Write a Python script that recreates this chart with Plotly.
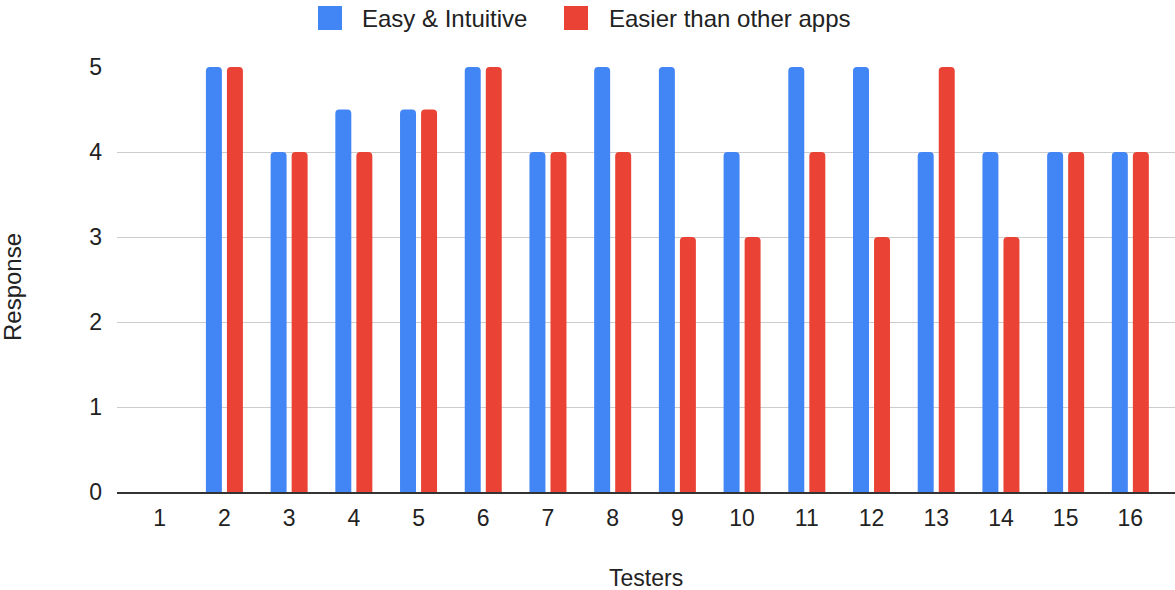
import plotly.graph_objects as go

# Survey responses per tester
testers = [str(i) for i in range(1, 17)]
easy_intuitive = [None, 5, 4, 4.5, 4.5, 5, 4, 5, 5, 4, 5, 5, 4, 4, 4, 4]
easier_than_others = [None, 5, 4, 4, 4.5, 5, 4, 4, 3, 3, 4, 3, 5, 3, 4, 4]
series_names = ["Easy & Intuitive", "Easier than other apps"]
series_colors = ["#4285F4", "#EA4335"]
y_ticks = [0, 1, 2, 3, 4, 5]

W, H = 1175, 590
L, R, T, B = 117, 0, 67, 98
FONT = "Liberation Sans, Arial, sans-serif"
TEXT = "#222222"


def px_x(px):
    return (px - L) / (W - L - R)


def px_y(py):
    return (H - B - py) / (H - T - B)


fig = go.Figure()
for name, vals, color in zip(series_names, [easy_intuitive, easier_than_others], series_colors):
    fig.add_trace(go.Bar(x=testers, y=vals, name=name, marker_color=color,
                         marker_line_width=0, showlegend=False))

# Legend drawn as swatches + labels above the plot
shapes = []
annotations = []
legend_items = [(318, 360), (564, 607)]
for (sx, tx), name, color in zip(legend_items, series_names, series_colors):
    shapes.append(dict(type="rect", xref="paper", yref="paper",
                       x0=px_x(sx), x1=px_x(sx + 24), y0=px_y(30), y1=px_y(6),
                       fillcolor=color, line_width=0))
    annotations.append(dict(text=name, xref="paper", yref="paper",
                            x=px_x(tx), y=px_y(18), xanchor="left", yanchor="middle",
                            showarrow=False, font=dict(size=24, color=TEXT, family=FONT)))

# Axis titles
annotations.append(dict(text="Testers", xref="paper", yref="paper",
                        x=px_x(646), y=px_y(578), xanchor="center", yanchor="middle",
                        showarrow=False, font=dict(size=23, color=TEXT, family=FONT)))
annotations.append(dict(text="Response", xref="paper", yref="paper",
                        x=px_x(12), y=px_y(287), xanchor="center", yanchor="middle",
                        textangle=-90, showarrow=False,
                        font=dict(size=24, color=TEXT, family=FONT)))

fig.update_layout(
    width=W, height=H,
    margin=dict(l=L, r=R, t=T, b=B, pad=0),
    paper_bgcolor="white", plot_bgcolor="white",
    barmode="group", bargap=0.35, bargroupgap=0.24, barcornerradius=4,
    font=dict(family=FONT, size=23, color=TEXT),
    shapes=shapes, annotations=annotations,
    xaxis=dict(type="category", range=[-0.66, 15.69], showgrid=False,
               ticks="", showline=True, linecolor="#333333", linewidth=2,
               ticklabelstandoff=4, tickfont=dict(size=23, color=TEXT)),
    yaxis=dict(range=[0, 5], tickvals=y_ticks, showgrid=True, gridcolor="#cccccc",
               gridwidth=1, zeroline=False, showline=False, ticks="",
               ticklabelstandoff=14, tickfont=dict(size=23, color=TEXT)),
)

fig.write_html("out.html")
